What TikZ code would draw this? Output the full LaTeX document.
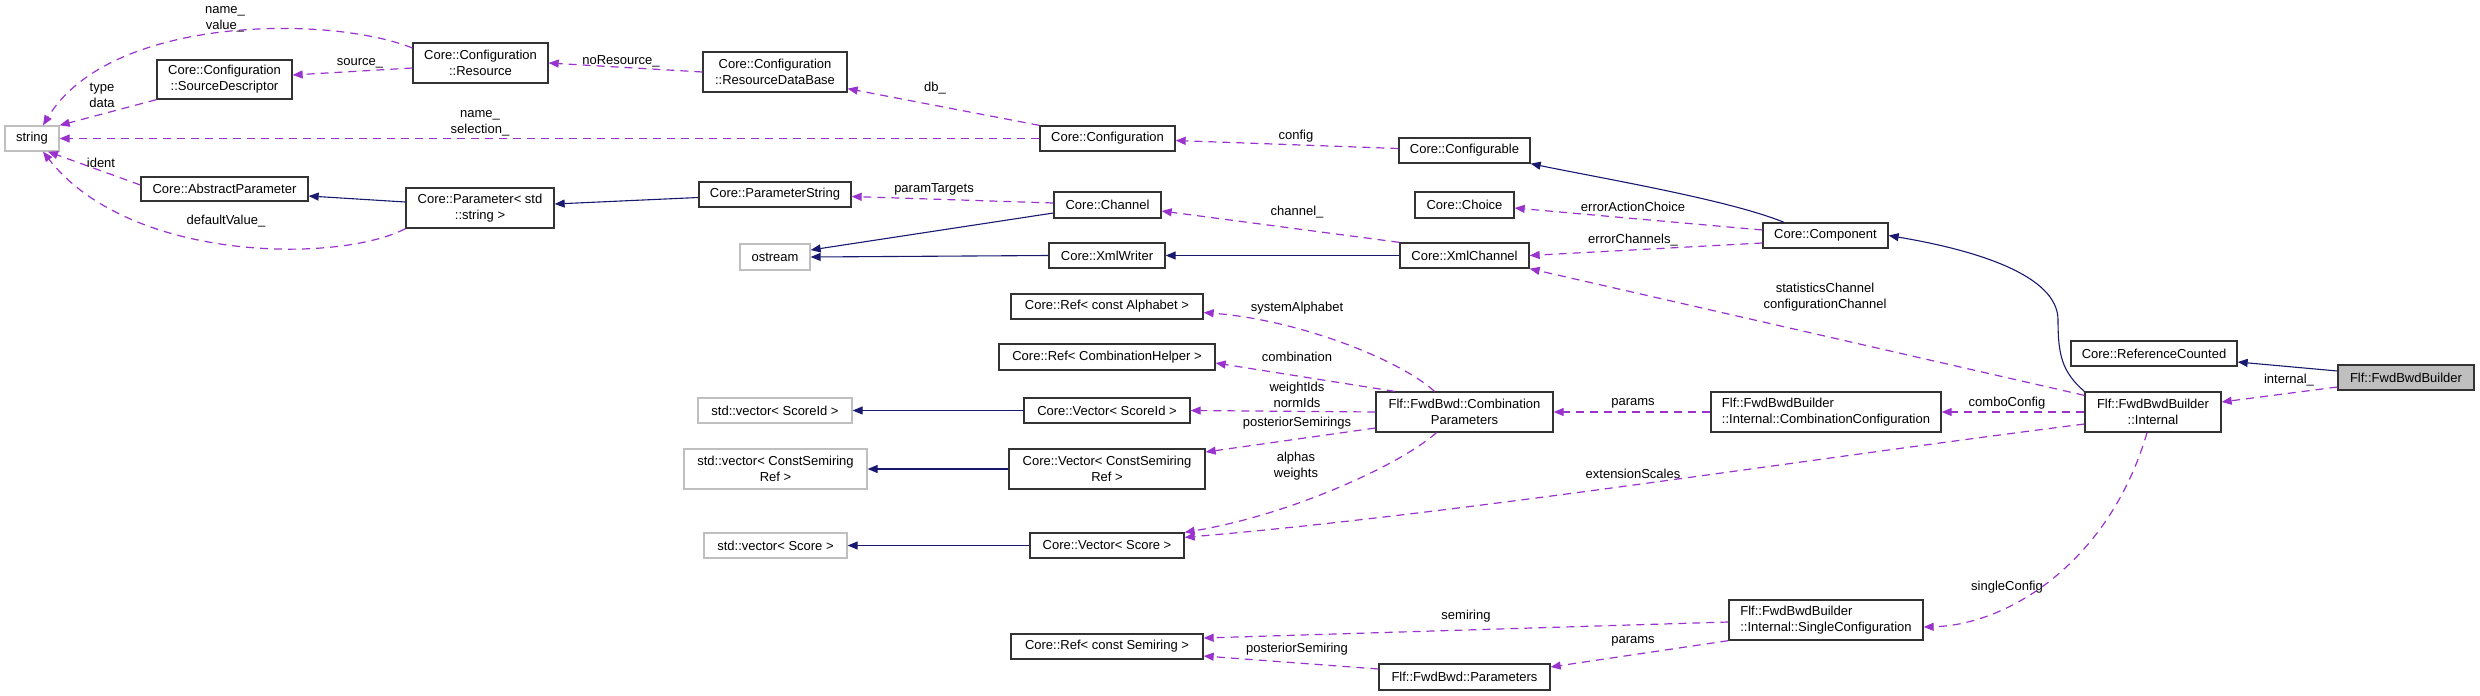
\documentclass[tikz,border=0pt]{standalone}
\usepackage{fontspec}
\setmainfont{Liberation Sans}
\usetikzlibrary{arrows.meta}
\definecolor{depc}{HTML}{9A32CD}
\definecolor{inhc}{HTML}{191970}
\definecolor{graybd}{HTML}{BFBFBF}
\newcommand\dxf{\fontsize{6.5}{8}\selectfont}
\tikzset{
  sz/.style 2 args={minimum width=#1*0.5pt, minimum height=#2*0.5pt},
  cls/.style={draw=black!80, line width=0.65pt, fill=white, inner sep=0pt, font=\dxf, align=center},
  ext/.style={cls, draw=graybd},
  cur/.style={cls, fill=graybd},
  lab/.style={font=\dxf, inner sep=0pt, align=center},
  dep/.style={draw=depc, line width=0.6pt, dash pattern=on 4pt off 3pt, -{Triangle[length=5pt,width=4pt]}},
  inh/.style={draw=inhc, line width=0.55pt, -{Triangle[length=5pt,width=4pt]}}
}
\begin{document}
\begin{tikzpicture}[x=0.5pt,y=-0.5pt]
\useasboundingbox (0,0) rectangle (2480,696);
% nodes
\node[ext, sz={54}{25}] (string) at (32,138.5) {string};
\node[cls, sz={135}{39}] (srcdesc) at (224.5,79.5) {Core::Configuration\\::SourceDescriptor};
\node[cls, sz={135}{40}] (resource) at (480.5,63) {Core::Configuration\\::Resource};
\node[cls, sz={167}{24}] (absparam) at (224.5,189) {Core::AbstractParameter};
\node[cls, sz={148}{40}] (param) at (480,208) {Core::Parameter< std\\::string >};
\node[cls, sz={144}{40}] (resdb) at (775,72) {Core::Configuration\\::ResourceDataBase};
\node[cls, sz={135}{25}] (config) at (1107.5,138.5) {Core::Configuration};
\node[cls, sz={152}{25}] (paramstr) at (775,194.5) {Core::ParameterString};
\node[cls, sz={107}{26}] (channel) at (1107.5,205) {Core::Channel};
\node[cls, sz={131}{25}] (configurable) at (1464.5,150.5) {Core::Configurable};
\node[cls, sz={99}{26}] (choice) at (1464.5,205) {Core::Choice};
\node[cls, sz={129}{25}] (xmlchannel) at (1464.5,255.5) {Core::XmlChannel};
\node[cls, sz={125}{25}] (component) at (1825.5,235.5) {Core::Component};
\node[ext, sz={70}{26}] (ostream) at (775,257) {ostream};
\node[cls, sz={116}{25}] (xmlwriter) at (1107,255.5) {Core::XmlWriter};
\node[cls, sz={192}{25}] (refalpha) at (1107,306.5) {Core::Ref< const Alphabet >};
\node[cls, sz={216}{26}] (refcomb) at (1107,357) {Core::Ref< CombinationHelper >};
\node[ext, sz={154}{25}] (stdscoreid) at (775,410.5) {std::vector< ScoreId >};
\node[cls, sz={166}{25}] (vecscoreid) at (1107,410.5) {Core::Vector< ScoreId >};
\node[ext, sz={183}{40}] (stdcsr) at (775.5,469) {std::vector< ConstSemiring\\Ref >};
\node[cls, sz={196}{40}] (veccsr) at (1107,469) {Core::Vector< ConstSemiring\\Ref >};
\node[ext, sz={143}{25}] (stdscore) at (775.5,545.5) {std::vector< Score >};
\node[cls, sz={154}{25}] (vecscore) at (1107,545.5) {Core::Vector< Score >};
\node[cls, sz={192}{25}] (refsemi) at (1107,646.5) {Core::Ref< const Semiring >};
\node[cls, sz={177}{40}] (combparams) at (1464.5,412) {Flf::FwdBwd::Combination\\Parameters};
\node[cls, sz={230}{40}, align=left] (combconf) at (1826,412) {Flf::FwdBwdBuilder\\::Internal::CombinationConfiguration};
\node[cls, sz={136}{40}] (internal) at (2153,412) {Flf::FwdBwdBuilder\\::Internal};
\node[cls, sz={166}{25}] (refcounted) at (2154,353.5) {Core::ReferenceCounted};
\node[cur, sz={136}{25}] (fwdbwd) at (2406,377.5) {Flf::FwdBwdBuilder};
\node[cls, sz={194}{40}, align=left] (singleconf) at (1826,620) {Flf::FwdBwdBuilder\\::Internal::SingleConfiguration};
\node[cls, sz={171}{26}] (fbparams) at (1464.5,677) {Flf::FwdBwd::Parameters};
% dependency edges
\draw[dep] ([yshift=7.5pt]resource.west) .. controls (330,15) and (110,15) .. ([xshift=5.5pt]string.north);
\draw[dep] ([yshift=-2.5pt]resource.west) -- ([yshift=2.25pt]srcdesc.east);
\draw[dep] (srcdesc.south west) -- (string.north east);
\draw[dep] (config.west) -- (string.east);
\draw[dep] ([yshift=2pt]absparam.west) -- ([xshift=8pt]string.south);
\draw[dep] (param.south west) .. controls (340,263) and (130,263) .. ([xshift=5.5pt]string.south);
\draw[dep] (resdb.west) -- (resource.east);
\draw[dep] (config.north west) -- ([yshift=2pt]resdb.south east);
\draw[dep] ([yshift=1pt]configurable.west) -- ([yshift=-1pt]config.east);
\draw[dep] ([yshift=1pt]channel.west) -- ([yshift=-1pt]paramstr.east);
\draw[dep] (xmlchannel.north west) -- ([yshift=-3pt]channel.east);
\draw[dep] ([yshift=2.75pt]component.west) -- ([yshift=-1.5pt]choice.east);
\draw[dep] ([yshift=-3.75pt]component.west) -- (xmlchannel.east);
\draw[dep] ([yshift=-2pt]internal.north west) -- (xmlchannel.south east);
\draw[dep] (internal.west) -- (combconf.east);
\draw[dep] (combconf.west) -- (combparams.east);
\draw[dep] ([yshift=-6pt]internal.west) .. controls (1800,460) and (1450,515) .. ([yshift=-2.5pt]vecscore.north east);
\draw[dep] ([xshift=-14pt]combparams.south) .. controls (1400,465) and (1290,515) .. (vecscore.north east);
\draw[dep] ([xshift=-15pt]combparams.north) .. controls (1400,360) and (1300,320) .. ([yshift=-3pt]refalpha.east);
\draw[dep] ([xshift=-35pt]combparams.north) -- ([yshift=-3pt]refcomb.east);
\draw[dep] (combparams.west) -- (vecscoreid.east);
\draw[dep] ([yshift=-8pt]combparams.west) -- ([yshift=8.5pt]veccsr.east);
\draw[dep] ([yshift=-1pt]singleconf.west) -- ([yshift=4.25pt]refsemi.east);
\draw[dep] ([yshift=4pt]fbparams.west) -- ([yshift=-4.75pt]refsemi.east);
\draw[dep] (singleconf.south west) -- ([yshift=5pt]fbparams.east);
\draw[dep] ([xshift=-3pt]internal.south) .. controls (2110,560) and (2010,625) .. ([yshift=-3.5pt]singleconf.east);
\draw[dep] ([yshift=-4.75pt]fwdbwd.west) -- ([yshift=5pt]internal.east);
% inheritance edges
\draw[inh] ([yshift=3pt]param.west) -- ([yshift=-3.5pt]absparam.east);
\draw[inh] ([yshift=-1.5pt]paramstr.west) -- ([yshift=2pt]param.east);
\draw[inh] ([yshift=-4pt]channel.west) -- ([yshift=3.5pt]ostream.east);
\draw[inh] (xmlwriter.west) -- (ostream.east);
\draw[inh] (xmlchannel.west) -- (xmlwriter.east);
\draw[inh] ([xshift=-20.75pt]component.north) .. controls (1730,200) and (1600,178) .. (configurable.south east);
\draw[inh] (internal.north west) .. controls (2062,372) and (2058,355) .. (2058,320) .. controls (2058,275) and (1975,250) .. (component.east);
\draw[inh] ([yshift=3.25pt]fwdbwd.west) -- ([yshift=-4.25pt]refcounted.east);
\draw[inh] (vecscoreid.west) -- (stdscoreid.east);
\draw[inh] (veccsr.west) -- (stdcsr.east);
\draw[inh] (vecscore.west) -- (stdscore.east);
% labels
\node[lab] (l1) at (225,19.5) {name\_\\value\_};
\node[lab] (l2) at (360,63) {source\_};
\node[lab] (l3) at (102,95) {type\\data};
\node[lab] (l4) at (480,123) {name\_\\selection\_};
\node[lab] (l5) at (101,163) {ident};
\node[lab] (l6) at (226,221) {defaultValue\_};
\node[lab] (l7) at (621,61) {noResource\_};
\node[lab] (l8) at (935,88) {db\_};
\node[lab] (l9) at (934,189) {paramTargets};
\node[lab] (l10) at (1296,136) {config};
\node[lab] (l11) at (1297,212) {channel\_};
\node[lab] (l12) at (1633,207) {errorActionChoice};
\node[lab] (l13) at (1633,240) {errorChannels\_};
\node[lab] (l14) at (1825,297) {statisticsChannel\\configurationChannel};
\node[lab] (l15) at (1297,308) {systemAlphabet};
\node[lab] (l16) at (1297,357) {combination};
\node[lab] (l17) at (1297,394.5) {weightIds\\normIds};
\node[lab] (l18) at (1297,423) {posteriorSemirings};
\node[lab] (l19) at (1633,403) {params};
\node[lab] (l20) at (2007,403) {comboConfig};
\node[lab] (l21) at (2289,380) {internal\_};
\node[lab] (l22) at (1296,466.5) {alphas\\weights};
\node[lab] (l23) at (1633,474) {extensionScales};
\node[lab] (l24) at (2007,587) {singleConfig};
\node[lab] (l25) at (1466,616) {semiring};
\node[lab] (l26) at (1633,641) {params};
\node[lab] (l27) at (1297,649) {posteriorSemiring};
\end{tikzpicture}
\end{document}
